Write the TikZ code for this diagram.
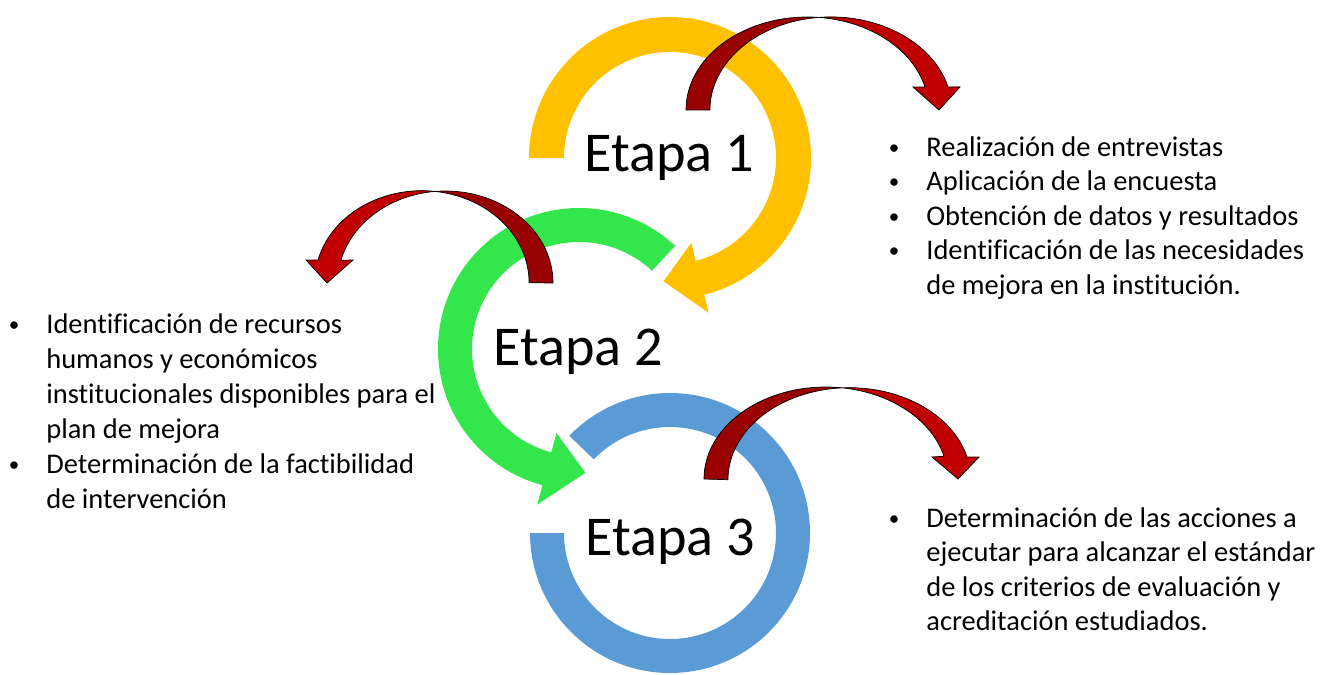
\documentclass[tikz,border=0pt]{standalone}
\usepackage{fontspec}
\setmainfont[Ligatures={NoCommon,NoRare,NoContextual}]{Carlito}
\definecolor{ringyellow}{HTML}{FFC000}
\definecolor{ringgreen}{HTML}{33E64B}
\definecolor{ringblue}{HTML}{5B9BD5}
\definecolor{arrowdark}{HTML}{990000}
\definecolor{arrowred}{HTML}{C00000}

\begin{document}
\begin{tikzpicture}[x=0.02cm,y=0.02cm,
        etapa/.style={anchor=base,font=\fontsize{32}{38}\selectfont},
        dot/.style={anchor=base,font=\fontsize{12}{14}\selectfont},
        item/.style={anchor=base west,inner sep=0pt,font=\fontsize{16.2}{19}\selectfont},
        bendline/.style={draw=black,line width=0.4pt}]
        \useasboundingbox (0,0) rectangle (1324,674);

        % rings
        \begin{scope}[shift={(670,141)}]
        \path[fill=ringblue] (180:140) arc[start angle=180,end angle=496,radius=140]
            -- (496:106) arc[start angle=496,end angle=180,radius=106] -- cycle;
        \end{scope}
        \begin{scope}[shift={(579,325)}]
        \path[fill=ringgreen] (47:141) arc[start angle=47,end angle=255,radius=141]
            -- (255:161) -- (273:124) -- (255:87) -- (255:107)
            arc[start angle=255,end angle=47,radius=107] -- cycle;
        \end{scope}
        \begin{scope}[shift={(670,516)}]
        \path[fill=ringyellow] (180:141) arc[start angle=180,end angle=-76,radius=141]
            -- (-76:159.5) -- (-93:123.5) -- (-76:87.5) -- (-76:106)
            arc[start angle=-76,end angle=180,radius=106] -- cycle;
        \end{scope}

        % curved arrows
        \path[save path=\bendone] (686,564) arc[start angle=180,end angle=14.3,x radius=121.4,y radius=93]
            -- (913,587) -- (939,564) -- (960,587) -- (948,587)
            arc[start angle=14.3,end angle=180,x radius=120.9,y radius=93] -- cycle;
        \path[save path=\bendtwo] (553,391) arc[start angle=0,end angle=165.7,x radius=107.7,y radius=92]
            -- (353,414) -- (327,391) -- (306,414) -- (318,414)
            arc[start angle=165.7,end angle=0,x radius=107.2,y radius=92] -- cycle;
        \path[save path=\bendthree] (704,195) arc[start angle=180,end angle=14.3,x radius=121.9,y radius=92]
            -- (932,217) -- (958,195) -- (979,217) -- (967,217)
            arc[start angle=14.3,end angle=180,x radius=121.4,y radius=92] -- cycle;

        \fill[arrowdark,use path=\bendone];
        \fill[arrowdark,use path=\bendtwo];
        \fill[arrowdark,use path=\bendthree];
        \begin{scope}
        \clip (819,400) rectangle (1324,674);
        \fill[arrowred,use path=\bendone];
        \end{scope}
        \begin{scope}
        \clip (0,300) rectangle (433.5,500);
        \fill[arrowred,use path=\bendtwo];
        \end{scope}
        \begin{scope}
        \clip (837.7,100) rectangle (1324,300);
        \fill[arrowred,use path=\bendthree];
        \end{scope}
        \path[bendline,use path=\bendone];
        \path[bendline,use path=\bendtwo];
        \path[bendline,use path=\bendthree];

        % stage labels
        \node[etapa] (e1) at (669,502.5) {Etapa 1};
        \node[etapa] (e2) at (578,309) {Etapa 2};
        \node[etapa] (e3) at (670,119) {Etapa 3};

        % stage 1 list
        \node[dot] (d11) at (894,520) {•};
        \node[dot] (d12) at (894,485.5) {•};
        \node[dot] (d13) at (894,451) {•};
        \node[dot] (d14) at (894,416.5) {•};
        \node[item] (t11) at (926,518) {Realización de entrevistas};
        \node[item] (t12) at (926,483.5) {Aplicación de la encuesta};
        \node[item] (t13) at (926,449) {Obtención de datos y resultados};
        \node[item] (t14) at (926,414.5) {Identificación de las necesidades};
        \node[item] (t15) at (926,380) {de mejora en la institución.};

        % stage 2 list
        \node[dot] (d21) at (14,343) {•};
        \node[dot] (d22) at (14,203) {•};
        \node[item] (t21) at (46,341) {Identificación de recursos};
        \node[item] (t22) at (46,306) {humanos y económicos};
        \node[item] (t23) at (46,271) {institucionales disponibles para el};
        \node[item] (t24) at (46,236) {plan de mejora};
        \node[item] (t25) at (46,201) {Determinación de la factibilidad};
        \node[item] (t26) at (46,166) {de intervención};

        % stage 3 list
        \node[dot] (d31) at (894,149) {•};
        \node[item] (t31) at (926,147) {Determinación de las acciones a};
        \node[item] (t32) at (926,112.5) {ejecutar para alcanzar el estándar};
        \node[item] (t33) at (926,78) {de los criterios de evaluación y};
        \node[item] (t34) at (926,43.5) {acreditación estudiados.};
    \end{tikzpicture}
\end{document}
